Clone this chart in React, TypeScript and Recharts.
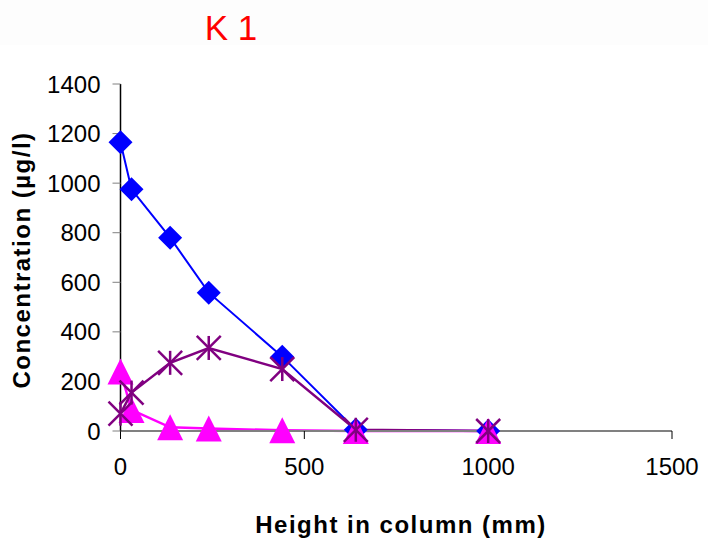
import { Label, Line, LineChart, XAxis, YAxis } from "recharts";

const heights = [0, 30, 135, 240, 440, 640, 1000];
const blueSeries = [1165, 975, 780, 558, 300, 5, 0];
const purpleSeries = [70, 155, 275, 335, 250, 5, 0];
const magentaSeries = [240, 85, 15, 10, 3, 0, 0];

const xTicks = [0, 500, 1000, 1500];
const yTicks = [0, 200, 400, 600, 800, 1000, 1200, 1400];

const data = heights.map((h, i) => ({
  height: h,
  blue: blueSeries[i],
  purple: purpleSeries[i],
  magenta: magentaSeries[i],
}));

const FONT = '"Liberation Sans", Arial, sans-serif';

function Diamond(props: any) {
  const { cx, cy } = props;
  if (cx == null || cy == null) return null;
  const r = 12;
  return (
    <polygon
      points={`${cx},${cy - r} ${cx + r},${cy} ${cx},${cy + r} ${cx - r},${cy}`}
      fill="#0000FF"
    />
  );
}

function Triangle(props: any) {
  const { cx, cy } = props;
  if (cx == null || cy == null) return null;
  const w = 13;
  const h = 13;
  return (
    <polygon
      points={`${cx},${cy - h} ${cx + w},${cy + h} ${cx - w},${cy + h}`}
      fill="#FF00FF"
    />
  );
}

function Star(props: any) {
  const { cx, cy } = props;
  if (cx == null || cy == null) return null;
  const r = 12;
  return (
    <g stroke="#800080" strokeWidth={2.5}>
      <line x1={cx} y1={cy - r} x2={cx} y2={cy + r} />
      <line x1={cx - r} y1={cy - r} x2={cx + r} y2={cy + r} />
      <line x1={cx - r} y1={cy + r} x2={cx + r} y2={cy - r} />
    </g>
  );
}

export default function App() {
  return (
    <div style={{ position: "absolute", left: 0, top: 0, width: 708, height: 549, background: "#fff" }}>
      <div
        style={{
          position: "absolute",
          left: 0,
          top: 0,
          width: 708,
          height: 45,
          background: "#fdfdfd",
        }}
      />
      <div
        style={{
          position: "absolute",
          left: 181,
          width: 100,
          top: 8,
          textAlign: "center",
          fontFamily: FONT,
          fontSize: 35,
          lineHeight: "40px",
          color: "#FF0000",
        }}
      >
        K 1
      </div>
      <LineChart
        width={708}
        height={549}
        data={data}
        margin={{ top: 84, right: 36, bottom: 0, left: 0 }}
        style={{ position: "absolute", left: 0, top: 0 }}
      >
        <XAxis
          dataKey="height"
          type="number"
          domain={[0, 1500]}
          ticks={xTicks}
          interval={0}
          height={118}
          axisLine={{ stroke: "#808080", strokeWidth: 2 }}
          tickLine={{ stroke: "#000" }}
          tickSize={8}
          tickMargin={19}
          tick={{ fill: "#000", fontSize: 24, fontFamily: FONT }}
        >
          <Label
            content={() => (
              <text
                x={401}
                y={533}
                textAnchor="middle"
                fontFamily={FONT}
                fontWeight="bold"
                fontSize={24}
                letterSpacing={1.5}
                fill="#000"
              >
                Height in column (mm)
              </text>
            )}
          />
        </XAxis>
        <YAxis
          type="number"
          domain={[0, 1400]}
          ticks={yTicks}
          interval={0}
          width={120.5}
          axisLine={{ stroke: "#000", strokeWidth: 1.5 }}
          tickLine={{ stroke: "#808080" }}
          tickSize={8}
          tickMargin={12}
          tick={{ fill: "#000", fontSize: 24, fontFamily: FONT }}
        >
          <Label
            content={() => (
              <text
                x={30}
                y={260}
                transform="rotate(-90 30 260)"
                textAnchor="middle"
                fontFamily={FONT}
                fontWeight="bold"
                fontSize={24}
                letterSpacing={1.5}
                fill="#000"
              >
                Concentration (µg/l)
              </text>
            )}
          />
        </YAxis>
        <Line
          type="linear"
          dataKey="blue"
          stroke="#0000FF"
          strokeWidth={2}
          dot={<Diamond />}
          activeDot={false}
          isAnimationActive={false}
        />
        <Line
          type="linear"
          dataKey="magenta"
          stroke="#FF00FF"
          strokeWidth={2.5}
          dot={<Triangle />}
          activeDot={false}
          isAnimationActive={false}
        />
        <Line
          type="linear"
          dataKey="purple"
          stroke="#800080"
          strokeWidth={2.5}
          dot={<Star />}
          activeDot={false}
          isAnimationActive={false}
        />
      </LineChart>
    </div>
  );
}
